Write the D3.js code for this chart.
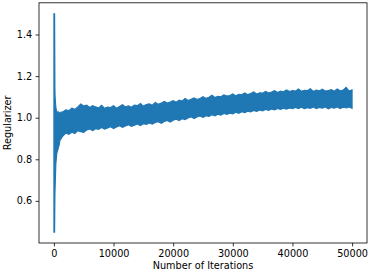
<!DOCTYPE html>
<html>
<head>
<meta charset="utf-8">
<script src="https://cdn.jsdelivr.net/npm/d3@7"></script>
<style>
  body { margin: 0; background: #fff; }
  svg { display: block; }
  text { font-family: "DejaVu Sans", sans-serif; fill: #000; }
</style>
</head>
<body>
<svg id="chart" width="374" height="272"></svg>
<script>
// iteration at which the envelope of the noisy curve was read
const iters = [0, 120, 170, 200, 330, 500, 700, 900, 1000,
  1500, 2000, 2500, 3000, 3500, 4000, 4500, 5000, 5500, 6000, 6500, 7000, 7500, 8000, 8500, 9000, 9500, 10000,
  10500, 11000, 11500, 12000, 12500, 13000, 13500, 14000, 14500, 15000, 15500, 16000, 16500, 17000, 17500, 18000,
  18500, 19000, 19500, 20000, 20500, 21000, 21500, 22000, 22500, 23000, 23500, 24000, 24500, 25000, 25500, 26000,
  26500, 27000, 27500, 28000, 28500, 29000, 29500, 30000, 30500, 31000, 31500, 32000, 32500, 33000, 33500, 34000,
  34500, 35000, 35500, 36000, 36500, 37000, 37500, 38000, 38500, 39000, 39500, 40000, 40500, 41000, 41500, 42000,
  42500, 43000, 43500, 44000, 44500, 45000, 45500, 46000, 46500, 47000, 47500, 48000, 48500, 49000, 49500, 50000];

// upper edge of the regularizer band
const upper = [1.5, 1.5, 1.15, 1.1, 1.05, 1.02, 1.03, 1.015, 1.025,
  1.028, 1.038, 1.034, 1.046, 1.040, 1.052, 1.066, 1.056, 1.061, 1.049, 1.058, 1.052, 1.047, 1.060, 1.045, 1.051, 1.049, 1.058,
  1.046, 1.054, 1.063, 1.052, 1.057, 1.050, 1.061, 1.058, 1.068, 1.056, 1.063, 1.067, 1.060, 1.073, 1.065, 1.070,
  1.079, 1.071, 1.076, 1.082, 1.074, 1.085, 1.080, 1.093, 1.083, 1.089, 1.095, 1.088, 1.092, 1.101, 1.093, 1.098,
  1.108, 1.097, 1.103, 1.101, 1.110, 1.104, 1.107, 1.115, 1.105, 1.112, 1.110, 1.119, 1.111, 1.116, 1.124, 1.114,
  1.120, 1.118, 1.127, 1.119, 1.124, 1.130, 1.121, 1.128, 1.125, 1.134, 1.126, 1.131, 1.128, 1.138, 1.127, 1.132,
  1.130, 1.139, 1.126, 1.133, 1.129, 1.137, 1.128, 1.131, 1.135, 1.127, 1.138, 1.130, 1.133, 1.146, 1.128, 1.134];

// lower edge of the regularizer band
const lower = [0.45, 0.45, 0.62, 0.66, 0.78, 0.83, 0.85, 0.87, 0.89,
  0.912, 0.926, 0.920, 0.930, 0.924, 0.937, 0.933, 0.929, 0.941, 0.946, 0.938, 0.947, 0.944, 0.953, 0.945, 0.950, 0.956, 0.948,
  0.955, 0.961, 0.953, 0.960, 0.966, 0.958, 0.964, 0.970, 0.962, 0.971, 0.968, 0.975, 0.969, 0.977, 0.981, 0.973,
  0.982, 0.987, 0.979, 0.988, 0.993, 0.986, 0.995, 0.991, 0.999, 1.004, 0.996, 1.003, 1.008, 1.001, 1.009, 1.006,
  1.014, 1.009, 1.017, 1.012, 1.020, 1.016, 1.022, 1.018, 1.026, 1.021, 1.029, 1.024, 1.031, 1.028, 1.035, 1.030,
  1.037, 1.033, 1.039, 1.035, 1.042, 1.037, 1.044, 1.040, 1.046, 1.041, 1.047, 1.043, 1.049, 1.044, 1.050, 1.043,
  1.048, 1.045, 1.051, 1.044, 1.049, 1.046, 1.052, 1.043, 1.049, 1.046, 1.051, 1.044, 1.050, 1.047, 1.052, 1.045];

const xTicks = [0, 10000, 20000, 30000, 40000, 50000];
const yTicks = [0.6, 0.8, 1.0, 1.2, 1.4];

const svg = d3.select("#chart");
const mLeft = 39, mRight = 367, mTop = 2.8, mBottom = 243;
const color = "#1f77b4";

const x = d3.scaleLinear().domain([-2500, 52500]).range([mLeft, mRight]);
const y = d3.scaleLinear().domain([0.3975, 1.5525]).range([mBottom, mTop]);

const data = iters.map((t, i) => ({t: t, hi: upper[i], lo: lower[i]}));

const area = d3.area()
  .x(d => x(d.t))
  .y0(d => y(d.lo))
  .y1(d => y(d.hi));

svg.append("path")
  .datum(data)
  .attr("d", area)
  .attr("fill", color)
  .attr("stroke", color)
  .attr("stroke-width", 1.1)
  .attr("stroke-linejoin", "miter");

// axes
const xAxis = svg.append("g")
  .attr("transform", `translate(0,${mBottom})`)
  .call(d3.axisBottom(x).tickValues(xTicks).tickFormat(d3.format("d")).tickSize(3.4).tickPadding(3.4));
const yAxis = svg.append("g")
  .attr("transform", `translate(${mLeft},0)`)
  .call(d3.axisLeft(y).tickValues(yTicks).tickFormat(d3.format(".1f")).tickSize(3.4).tickPadding(3.4));

[xAxis, yAxis].forEach(g => {
  g.select(".domain").remove();
  g.selectAll(".tick line").attr("stroke", "#000").attr("stroke-width", 0.8);
  g.selectAll(".tick text").attr("font-size", "9.7px").attr("font-family", "DejaVu Sans").attr("fill", "#000");
});

// frame
svg.append("rect")
  .attr("x", mLeft).attr("y", mTop)
  .attr("width", mRight - mLeft).attr("height", mBottom - mTop)
  .attr("fill", "none").attr("stroke", "#000").attr("stroke-width", 0.8);

svg.append("text")
  .attr("x", (mLeft + mRight) / 2)
  .attr("y", 268.5)
  .attr("text-anchor", "middle")
  .attr("font-size", "9.7px")
  .text("Number of Iterations");

svg.append("text")
  .attr("transform", `translate(11,${(mTop + mBottom) / 2}) rotate(-90)`)
  .attr("text-anchor", "middle")
  .attr("font-size", "9.7px")
  .text("Regularizer");
</script>
</body>
</html>
